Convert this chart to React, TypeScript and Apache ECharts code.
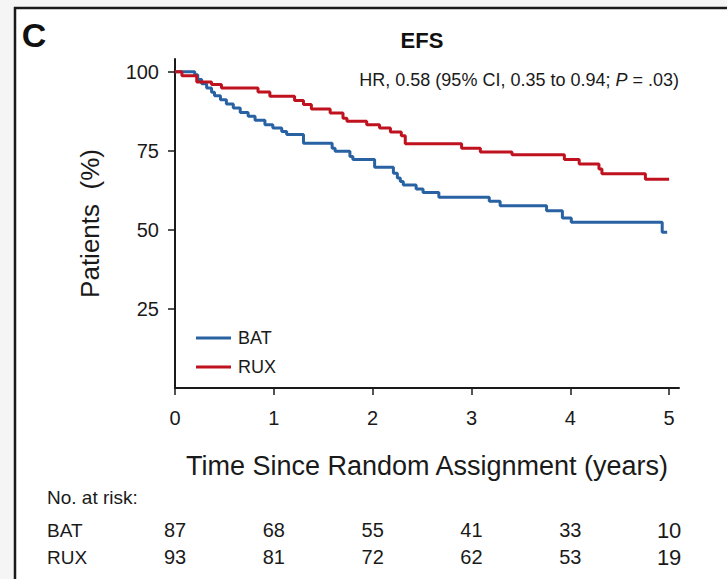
import React, { useEffect, useRef } from "react";
import * as echarts from "echarts";

const batTimes = [0, 0.2, 0.23, 0.27, 0.32, 0.37, 0.4, 0.46, 0.52, 0.59, 0.66, 0.74, 0.81, 0.91, 0.99, 1.08, 1.13, 1.3, 1.59, 1.62, 1.77, 1.8, 2.02, 2.21, 2.25, 2.28, 2.31, 2.44, 2.51, 2.67, 3.18, 3.29, 3.76, 3.92, 4.01, 4.93, 4.98];
const batSurv = [100, 99, 97.5, 96.2, 94.8, 93.5, 92.4, 91.1, 89.8, 88.5, 87.1, 85.9, 84.6, 83.2, 82.2, 81.1, 80.1, 77.4, 75.8, 74.8, 73.2, 72.2, 69.8, 67.9, 66.4, 65.3, 64.2, 62.9, 61.8, 60.3, 59.0, 57.6, 56.0, 53.7, 52.4, 49.2, 49.2];
const ruxTimes = [0, 0.07, 0.22, 0.37, 0.47, 0.84, 0.96, 1.21, 1.3, 1.38, 1.57, 1.7, 1.74, 1.94, 2.07, 2.18, 2.29, 2.33, 2.9, 3.09, 3.41, 3.94, 4.09, 4.29, 4.32, 4.76, 5.0];
const ruxSurv = [100, 98.7, 96.7, 95.9, 94.8, 93.6, 92.2, 90.9, 89.6, 88.2, 86.9, 85.3, 84.3, 83.2, 82.2, 80.9, 79.7, 77.2, 75.8, 74.6, 73.7, 72.2, 70.8, 69.2, 67.7, 66.0, 66.0];

const yTicks = [25, 50, 75, 100];
const xTicks = [0, 1, 2, 3, 4, 5];
const riskBAT = [87, 68, 55, 41, 33, 10];
const riskRUX = [93, 81, 72, 62, 53, 19];

const BLUE = "#2862a3";
const RED = "#c0111f";
const INK = "#1a1a1a";
const FONT = "'Liberation Sans', Arial, Helvetica, sans-serif";

export default function App() {
  const ref = useRef<HTMLDivElement>(null);
  useEffect(() => {
    if (!ref.current) return;
    const chart = echarts.init(ref.current, null, { renderer: "svg" });
    const option: any = {
      animation: false,
      backgroundColor: "#f5f5f5",
      grid: { left: 175, right: 48, top: 59, bottom: 191 },
      xAxis: {
        type: "value",
        min: 0,
        max: 5.1,
        axisLine: { show: true, lineStyle: { color: INK, width: 2 } },
        axisTick: { show: true, length: 7, customValues: xTicks, lineStyle: { color: INK, width: 1.5 } },
        axisLabel: { customValues: xTicks, fontSize: 20, color: INK, margin: 20, fontFamily: FONT },
        splitLine: { show: false },
        name: "Time Since Random Assignment (years)",
        nameLocation: "middle",
        nameGap: 64,
        nameTextStyle: { fontSize: 27, color: INK, fontFamily: FONT },
      },
      yAxis: {
        type: "value",
        min: 0,
        max: 104,
        axisLine: { show: true, lineStyle: { color: INK, width: 2 } },
        axisTick: { show: true, length: 7, customValues: yTicks, lineStyle: { color: INK, width: 1.5 } },
        axisLabel: { customValues: yTicks, fontSize: 20, color: INK, margin: 16, fontFamily: FONT },
        splitLine: { show: false },
        name: "Patients  (%)",
        nameLocation: "middle",
        nameGap: 72,
        nameTextStyle: { fontSize: 26, color: INK, fontFamily: FONT },
      },
      legend: {
        orient: "vertical",
        left: 191,
        top: 324,
        icon: "rect",
        itemWidth: 35,
        itemHeight: 3,
        itemGap: 11,
        textStyle: { fontSize: 18, color: INK, fontFamily: FONT, padding: [0, 0, 0, 2] },
        data: ["BAT", "RUX"],
      },
      series: [
        {
          name: "BAT",
          type: "line",
          step: "end",
          symbol: "none",
          lineStyle: { color: BLUE, width: 3 },
          itemStyle: { color: BLUE },
          data: batTimes.map((t, i) => [t, batSurv[i]]),
        },
        {
          name: "RUX",
          type: "line",
          step: "end",
          symbol: "none",
          lineStyle: { color: RED, width: 3 },
          itemStyle: { color: RED },
          data: ruxTimes.map((t, i) => [t, ruxSurv[i]]),
        },
      ],
    };
    chart.setOption(option);

    const xs = xTicks.map((t) => chart.convertToPixel({ xAxisIndex: 0 }, t) as number);
    const rowText = (vals: number[], y: number) =>
      vals.map((v, i) => ({
        type: "text",
        x: xs[i],
        y,
        style: {
          text: String(v),
          fontSize: i === vals.length - 1 ? 22 : 20,
          fill: INK,
          fontFamily: FONT,
          align: "center",
          verticalAlign: "middle",
        },
      }));

    chart.setOption({
      graphic: [
        { type: "rect", shape: { x: 15, y: 8, width: 712, height: 571 }, style: { fill: "#ffffff" }, z: -10 },
        { type: "line", shape: { x1: 14, y1: 8, x2: 727, y2: 8 }, style: { stroke: "#1a1a1a", lineWidth: 2.5 } },
        { type: "line", shape: { x1: 15, y1: 7, x2: 15, y2: 579 }, style: { stroke: "#1a1a1a", lineWidth: 2.5 } },
        { type: "text", x: 34, y: 35, style: { text: "C", fontSize: 34, fontWeight: "bold", fill: "#111", fontFamily: FONT, align: "center", verticalAlign: "middle" } },
        { type: "text", x: 422, y: 40, style: { text: "EFS", fontSize: 22, fontWeight: "bold", fill: "#111", fontFamily: FONT, align: "center", verticalAlign: "middle" } },
        {
          type: "text",
          x: 679,
          y: 80,
          style: {
            text: "HR, 0.58 (95% CI, 0.35 to 0.94; {i|P} = .03)",
            rich: { i: { fontStyle: "italic", fontSize: 18, fill: INK, fontFamily: FONT } },
            fontSize: 18,
            fill: INK,
            fontFamily: FONT,
            align: "right",
            verticalAlign: "middle",
          },
        },
        { type: "text", x: 47, y: 497, style: { text: "No. at risk:", fontSize: 19, fill: INK, fontFamily: FONT, align: "left", verticalAlign: "middle" } },
        { type: "text", x: 47, y: 530, style: { text: "BAT", fontSize: 19, fill: INK, fontFamily: FONT, align: "left", verticalAlign: "middle" } },
        { type: "text", x: 47, y: 557, style: { text: "RUX", fontSize: 19, fill: INK, fontFamily: FONT, align: "left", verticalAlign: "middle" } },
        ...rowText(riskBAT, 530),
        ...rowText(riskRUX, 557),
      ],
    });
    return () => chart.dispose();
  }, []);
  return <div ref={ref} style={{ position: "fixed", left: 0, top: 0, width: 727, height: 579 }} />;
}
